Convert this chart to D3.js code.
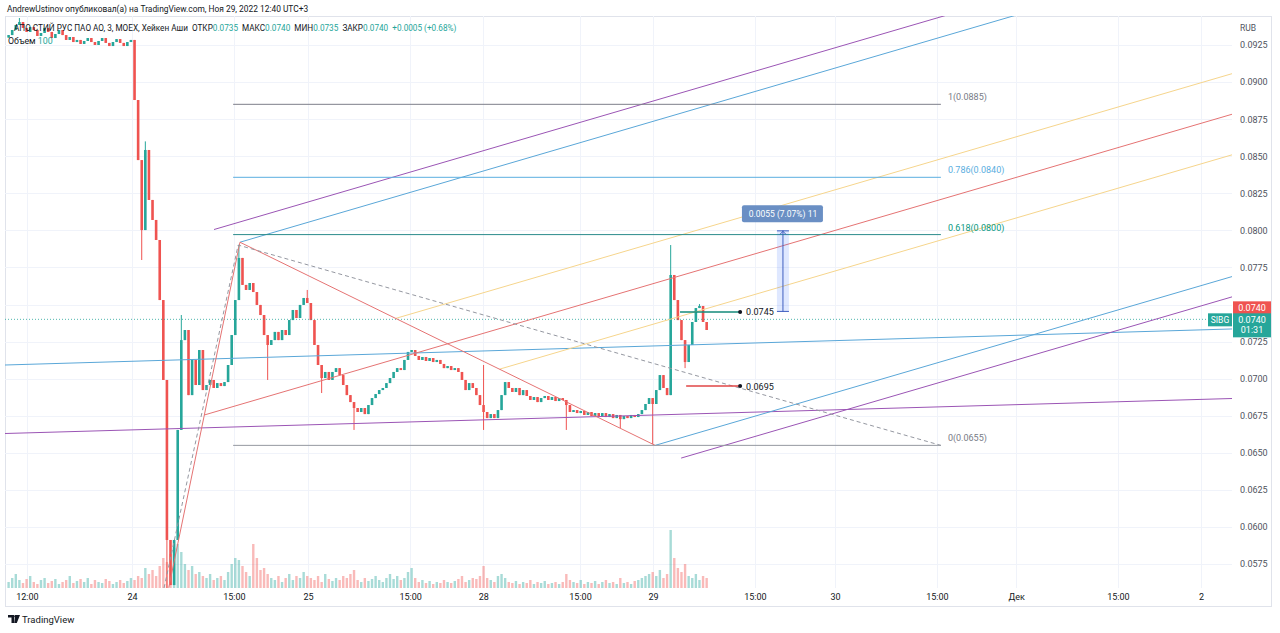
<!DOCTYPE html>
<html>
<head>
<meta charset="utf-8">
<script src="https://cdn.jsdelivr.net/npm/d3@7"></script>
<style>
body { margin: 0; background: #fff; }
svg { display: block; font-family: Roboto, "Noto Sans", sans-serif; }
</style>
</head>
<body>
<script>
// Heiken Ashi closes, 3-min bars (open = previous close)
var firstOpen = 0.0930;
var closes = [
0.09317,0.09351,0.09385,0.09405,0.09365,0.09338,0.09371,0.09351,0.09311,0.09331,
0.09365,0.09338,0.09297,0.09324,0.09351,0.09317,0.09284,0.09304,0.09270,0.09284,
0.09257,0.09277,0.09297,0.09270,0.09250,0.09277,0.09297,0.09264,0.09243,0.09270,
0.09290,0.09264,0.09243,0.09270,0.09284,0.08879,0.08474,0.08002,0.08542,0.08205,
0.08070,0.07935,0.07530,0.06991,0.05912,0.05608,0.05912,0.06654,0.07260,0.07328,
0.06889,0.07126,0.06957,0.07193,0.06923,0.06957,0.06991,0.06937,0.06970,0.06950,
0.06977,0.07092,0.07294,0.07530,0.07814,0.07632,0.07598,0.07645,0.07584,0.07497,
0.07429,0.07294,0.07227,0.07260,0.07315,0.07260,0.07328,0.07294,0.07395,0.07463,
0.07409,0.07497,0.07544,0.07510,0.07395,0.07227,0.07092,0.07004,0.07045,0.06991,
0.07045,0.07071,0.07024,0.06957,0.06889,0.06842,0.06802,0.06775,0.06802,0.06761,
0.06822,0.06869,0.06896,0.06923,0.06937,0.06970,0.07004,0.07045,0.07071,0.07058,
0.07126,0.07180,0.07193,0.07153,0.07126,0.07146,0.07119,0.07139,0.07112,0.07126,
0.07099,0.07071,0.07085,0.07058,0.07071,0.07045,0.06991,0.06923,0.06970,0.06937,
0.06889,0.06822,0.06775,0.06734,0.06761,0.06734,0.06788,0.06889,0.06977,0.06937,
0.06910,0.06937,0.06889,0.06923,0.06883,0.06856,0.06876,0.06842,0.06869,0.06883,
0.06856,0.06876,0.06849,0.06869,0.06856,0.06822,0.06775,0.06788,0.06768,0.06782,
0.06755,0.06775,0.06748,0.06768,0.06748,0.06768,0.06741,0.06761,0.06734,0.06755,
0.06727,0.06748,0.06734,0.06755,0.06741,0.06761,0.06788,0.06829,0.06869,0.06829,
0.06923,0.07024,0.06937,0.06889,0.07699,0.07530,0.07395,0.07260,0.07112,0.07227,
0.07382,0.07476,0.07490,0.07382,0.07328
];
var volumes = [
6,10,14,8,5,9,12,6,4,8,10,5,7,9,4,6,8,12,5,7,9,6,10,4,8,6,5,9,7,4,6,8,5,7,10,
8,12,10,20,14,18,12,22,30,26,34,
40,44,36,
24,18,22,14,16,12,10,14,8,10,12,8,16,24,30,
28,22,16,12,44,30,18,20,14,
10,8,12,6,10,14,8,12,10,16,12,
10,8,12,6,14,9,7,10,8,12,10,14,18,
8,6,10,7,9,12,8,6,10,14,9,12,8,10,16,20,
10,6,8,5,7,4,6,5,8,6,5,7,9,12,6,8,10,9,12,22,
10,8,6,12,14,10,6,5,7,4,6,5,8,4,6,5,7,4,5,6,4,6,
14,8,6,5,8,4,6,5,7,4,6,8,5,6,4,10,5,6,4,7,8,10,12,14,16,
12,18,10,14,58,30,20,16,24,12,10,14,8,12,10
];
// long wicks: bar number and extreme price
var wickBars = [4, 38, 39, 45, 49, 65, 73, 84, 88, 97, 133, 133, 156, 171, 180, 185, 189, 193];
var wickPrices = [0.09432, 0.0780, 0.0860, 0.05588, 0.07429, 0.07901, 0.06991, 0.07598, 0.06903, 0.06654,
  0.07092, 0.06654, 0.06654, 0.06667, 0.06558, 0.07901, 0.07071, 0.07503];

var priceTicks = [0.0925,0.0900,0.0875,0.0850,0.0825,0.0800,0.0775,0.0750,0.0725,0.0700,0.0675,0.0650,0.0625,0.0600,0.0575];
var timeLabels = ["12:00","24","15:00","25","15:00","28","15:00","29","15:00","30","15:00","Дек","15:00","2"];
var timeBars = [6.1, 35.3, 63.6, 84.2, 112.6, 132.9, 159.8, 180.1, 208.4, 230.7, 259.0, 281.0, 309.3, 332.4];

// fib extension
var fibLevels = [1, 0.786, 0.618, 0];
var fibLabels = ["1(0.0885)", "0.786(0.0840)", "0.618(0.0800)", "0(0.0655)"];
var fibBase = 0.0655, fibTop = 0.0885;
var fibFrom = 63.4, fibTo = 260.1;
var fibTrend = [[44.2, 0.05588], [64.8, 0.07901], [260.1, 0.0655]];

// modified Schiff pitchfork
var forkPoints = [[45.5, 0.0559], [65.3, 0.0792], [180.7, 0.0655]];
var forkLevels = [0.25, 1, 1.125];

// trend lines (extended both ways)
var trendBlue = [[0, 0.07092], [341, 0.07335]];
var trendPurple = [[0, 0.06630], [341, 0.06866]];

// price marks and price range
var markPrices = [0.0745, 0.0695];
var markFrom = [187.6, 189.3];
var markTo = 204.3;
var rangeBar = 216.2, rangeLow = 0.0745, rangeHigh = 0.0800;
var rangePct = 7.07, rangeBarsCount = 11;
var lastPrice = 0.0740;

var W = 1280, H = 633;
var up = "#26a69a", down = "#ef5350";

var svg = d3.select("body").append("svg").attr("width", W).attr("height", H);
svg.append("rect").attr("width", W).attr("height", H).attr("fill", "#fff");

var x = d3.scaleLinear().domain([0, 341]).range([5, 1232]);
var y = d3.scaleLinear().domain([0.0575, 0.0925]).range([564, 45]);
var v = d3.scaleLinear().domain([0, 100]).range([588, 488]);

svg.append("defs").append("clipPath").attr("id", "plot")
    .append("rect").attr("x", 5).attr("y", 16).attr("width", 1227).attr("height", 572);

// frame and grid
svg.append("rect").attr("x", 5.5).attr("y", 16.5).attr("width", 1266).attr("height", 590)
    .attr("fill", "none").attr("stroke", "#e0e3eb");
var grid = svg.append("g").attr("clip-path", "url(#plot)");
grid.selectAll("line.h").data(priceTicks).enter().append("line")
    .attr("x1", 5).attr("x2", 1232)
    .attr("y1", function(d){ return Math.round(y(d)) + 0.5; })
    .attr("y2", function(d){ return Math.round(y(d)) + 0.5; })
    .attr("stroke", "#f0f3fa");
grid.selectAll("line.v").data(timeBars).enter().append("line")
    .attr("y1", 16).attr("y2", 588)
    .attr("x1", function(d){ return Math.round(x(d)) + 0.5; })
    .attr("x2", function(d){ return Math.round(x(d)) + 0.5; })
    .attr("stroke", "#f0f3fa");

// candles
var opens = closes.map(function(c, i){ return i == 0 ? firstOpen : closes[i-1]; });
var highs = closes.map(function(c, i){ return Math.max(c, opens[i]); });
var lows = closes.map(function(c, i){ return Math.min(c, opens[i]); });
wickBars.forEach(function(b, j){
    highs[b-1] = Math.max(highs[b-1], wickPrices[j]);
    lows[b-1] = Math.min(lows[b-1], wickPrices[j]);
});
function colorOf(i){ return closes[i] >= opens[i] ? up : down; }

var chart = svg.append("g").attr("clip-path", "url(#plot)");
chart.selectAll("rect.vol").data(volumes).enter().append("rect")
    .attr("x", function(d, i){ return x(i+1) - 1.2; })
    .attr("y", function(d){ return v(d); })
    .attr("width", 2.4)
    .attr("height", function(d){ return 588 - v(d); })
    .attr("fill", function(d, i){ return colorOf(i); })
    .attr("opacity", 0.4);

chart.selectAll("line.wick").data(closes).enter().append("line")
    .attr("x1", function(d, i){ return x(i+1); })
    .attr("x2", function(d, i){ return x(i+1); })
    .attr("y1", function(d, i){ return y(highs[i]); })
    .attr("y2", function(d, i){ return y(lows[i]); })
    .attr("stroke", function(d, i){ return colorOf(i); })
    .attr("stroke-width", 1);
chart.selectAll("rect.body").data(closes).enter().append("rect")
    .attr("x", function(d, i){ return x(i+1) - 1.3; })
    .attr("y", function(d, i){ return y(Math.max(d, opens[i])); })
    .attr("width", 2.6)
    .attr("height", function(d, i){ return Math.max(1.5, Math.abs(y(d) - y(opens[i]))); })
    .attr("fill", function(d, i){ return colorOf(i); });

// current price line
chart.append("line")
    .attr("x1", 5).attr("x2", 1232)
    .attr("y1", y(lastPrice)).attr("y2", y(lastPrice))
    .attr("stroke", up).attr("stroke-dasharray", "1,2").attr("opacity", 0.8);

// drawings
var line = d3.line().x(function(d){ return x(d[0]); }).y(function(d){ return y(d[1]); });
function extend(p, q, i0, i1){
    var s = (q[1] - p[1]) / (q[0] - p[0]);
    return [[i0, p[1] + s * (i0 - p[0])], [i1, p[1] + s * (i1 - p[0])]];
}
var draw = svg.append("g").attr("clip-path", "url(#plot)").attr("fill", "none");

draw.append("path").attr("d", line(extend(trendBlue[0], trendBlue[1], 0, 341))).attr("stroke", "#5aa7d8");
draw.append("path").attr("d", line(extend(trendPurple[0], trendPurple[1], 0, 341))).attr("stroke", "#9b55b5");

// pitchfork
var P1 = forkPoints[0], P2 = forkPoints[1], P3 = forkPoints[2];
var M = [(P2[0] + P3[0]) / 2, (P2[1] + P3[1]) / 2];
var S = [(P1[0] + P2[0]) / 2, (P1[1] + P2[1]) / 2];
var slope = (M[1] - S[1]) / (M[0] - S[0]);
var forkColors = {0.25: "#f6d58c", 1: "#5aa7d8", 1.125: "#9b55b5"};
forkLevels.forEach(function(L){
    [P2, P3].forEach(function(P){
        var st = [M[0] + L * (P[0] - M[0]), M[1] + L * (P[1] - M[1])];
        draw.append("path")
            .attr("d", line([st, [341, st[1] + slope * (341 - st[0])]]))
            .attr("stroke", forkColors[L]);
    });
});
draw.append("path").attr("d", line([S, [341, S[1] + slope * (341 - S[0])]])).attr("stroke", "#e57373");
draw.append("path").attr("d", line([P1, P2, P3])).attr("stroke", "#e57373");

// fib extension
draw.append("path").attr("d", line(fibTrend))
    .attr("stroke", "#9598a1").attr("stroke-dasharray", "4,3");
var fibColors = ["#7e7f8a", "#5aaee0", "#2a8c8c", "#9598a1"];
var fibText = ["#787b86", "#5aaee0", "#089981", "#787b86"];
fibLevels.forEach(function(L, k){
    var p = fibBase + L * (fibTop - fibBase);
    draw.append("line")
        .attr("x1", x(fibFrom)).attr("x2", x(fibTo))
        .attr("y1", y(p)).attr("y2", y(p))
        .attr("stroke", fibColors[k]);
    svg.append("text")
        .attr("x", x(fibTo) + 7).attr("y", y(p) - 4)
        .attr("font-size", 9).attr("fill", fibText[k])
        .text(fibLabels[k]);
});

// price marks
var markColors = ["#138a7a", "#e04646"];
markPrices.forEach(function(p, k){
    draw.append("line")
        .attr("x1", x(markFrom[k])).attr("x2", x(markTo))
        .attr("y1", y(p)).attr("y2", y(p))
        .attr("stroke", markColors[k]).attr("stroke-width", 1.5);
    svg.append("circle").attr("cx", x(markTo)).attr("cy", y(p)).attr("r", 2).attr("fill", "#131722");
    svg.append("text").attr("x", x(markTo) + 6).attr("y", y(p) + 3.5)
        .attr("font-size", 9).attr("fill", "#131722").text(d3.format(".4f")(p));
});

// price range
var rx = x(rangeBar), ry1 = y(rangeHigh), ry2 = y(rangeLow);
svg.append("rect").attr("x", rx - 6).attr("y", ry1).attr("width", 12).attr("height", ry2 - ry1)
    .attr("fill", "#2962ff").attr("fill-opacity", 0.15);
svg.append("line").attr("x1", rx).attr("x2", rx).attr("y1", ry1).attr("y2", ry2)
    .attr("stroke", "#3f5fc0");
svg.append("line").attr("x1", rx - 6).attr("x2", rx + 6).attr("y1", ry1 + 0.5).attr("y2", ry1 + 0.5).attr("stroke", "#3f5fc0");
svg.append("line").attr("x1", rx - 6).attr("x2", rx + 6).attr("y1", ry2 - 0.5).attr("y2", ry2 - 0.5).attr("stroke", "#3f5fc0");
svg.append("path").attr("d", "M" + (rx - 3) + "," + (ry1 + 4) + "L" + rx + "," + (ry1 + 1) + "L" + (rx + 3) + "," + (ry1 + 4))
    .attr("fill", "none").attr("stroke", "#3f5fc0");
svg.append("rect").attr("x", rx - 41).attr("y", ry1 - 25).attr("width", 81).attr("height", 17).attr("rx", 2)
    .attr("fill", "#6a8fc4");
svg.append("text").attr("x", rx).attr("y", ry1 - 13.5).attr("text-anchor", "middle")
    .attr("font-size", 8.5).attr("fill", "#fff")
    .text(d3.format(".4f")(rangeHigh - rangeLow) + " (" + d3.format(".2f")(rangePct) + "%) " + rangeBarsCount);

// axes
var ly = y(lastPrice);
var yAxis = d3.axisRight(y).tickValues(priceTicks).tickSize(0).tickPadding(0)
    .tickFormat(function(d){ return Math.abs(y(d) - ly) < 18 ? "" : d3.format(".4f")(d); });
var ya = svg.append("g").attr("transform", "translate(1240,0)").call(yAxis);
ya.select(".domain").remove();
ya.selectAll("text").attr("font-size", 9).attr("fill", "#50535e").attr("font-family", "Roboto");
svg.append("text").attr("x", 1240).attr("y", 31).attr("font-size", 8.5).attr("fill", "#50535e").text("RUB");

var xAxis = d3.axisBottom(x).tickValues(timeBars).tickSize(0).tickPadding(6)
    .tickFormat(function(d, i){ return timeLabels[i]; });
var xa = svg.append("g").attr("transform", "translate(0,588)").call(xAxis);
xa.select(".domain").remove();
xa.selectAll("text").attr("font-size", 9).attr("fill", "#131722").attr("font-family", "Roboto");

// price tags
svg.append("rect").attr("x", 1233).attr("y", ly - 18).attr("width", 38).attr("height", 13).attr("fill", down);
svg.append("text").attr("x", 1252).attr("y", ly - 8.5).attr("text-anchor", "middle")
    .attr("font-size", 9).attr("fill", "#fff").text(d3.format(".4f")(lastPrice));
svg.append("rect").attr("x", 1233).attr("y", ly - 6).attr("width", 38).attr("height", 24).attr("fill", up);
svg.append("text").attr("x", 1252).attr("y", ly + 3.5).attr("text-anchor", "middle")
    .attr("font-size", 9).attr("fill", "#fff").text(d3.format(".4f")(lastPrice));
svg.append("text").attr("x", 1252).attr("y", ly + 14).attr("text-anchor", "middle")
    .attr("font-size", 9).attr("fill", "#fff").text("01:31");
svg.append("rect").attr("x", 1208).attr("y", ly - 6).attr("width", 24).attr("height", 13).attr("fill", up);
svg.append("text").attr("x", 1220).attr("y", ly + 3.5).attr("text-anchor", "middle")
    .attr("font-size", 8.5).attr("fill", "#fff").text("SIBG");

// header
svg.append("text").attr("x", 7).attr("y", 12).attr("font-size", 8.4).attr("fill", "#131722")
    .text("AndrewUstinov опубликовал(а) на TradingView.com, Ноя 29, 2022 12:40 UTC+3");
var legend = svg.append("text").attr("x", 14).attr("y", 31).attr("font-size", 8.2)
    .attr("fill", "#131722").attr("xml:space", "preserve");
var parts = [["АПО СТИЙ РУС ПАО АО, 3, MOEX, Хейкен Аши  ОТКР", "#131722"], ["0.0735", up],
    ["  МАКС", "#131722"], ["0.0740", up], ["  МИН", "#131722"], ["0.0735", up],
    ["  ЗАКР", "#131722"], ["0.0740", up], ["  +0.0005 (+0.68%)", up]];
parts.forEach(function(p){
    legend.append("tspan").attr("fill", p[1]).text(p[0]);
});
var vol = svg.append("text").attr("x", 8).attr("y", 44).attr("font-size", 8.8).attr("fill", "#131722");
vol.append("tspan").text("Объем ");
vol.append("tspan").attr("fill", up).text(" 100");

// footer logo
svg.append("path").attr("d", "M8,615h6v8h-2.5v-5.5h-3.5z M15,615h5l-3.2,8h-2.6z")
    .attr("fill", "#131722");
svg.append("circle").attr("cx", 15.6).attr("cy", 616.3).attr("r", 1.3).attr("fill", "#131722");
svg.append("text").attr("x", 22).attr("y", 623).attr("font-size", 9.5).attr("fill", "#131722").text("TradingView");
</script>
</body>
</html>
